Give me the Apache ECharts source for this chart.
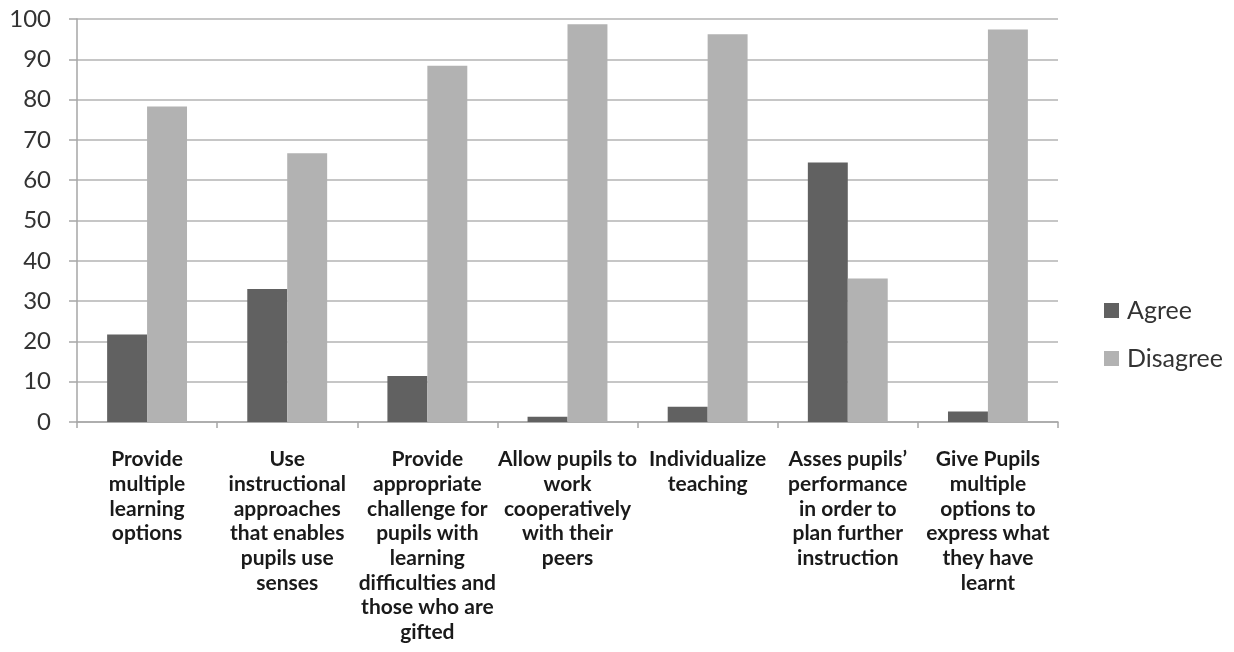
<!DOCTYPE html>
<html>
<head>
<meta charset="utf-8">
<script src="https://cdn.jsdelivr.net/npm/echarts@6/dist/echarts.min.js"></script>
<style>
html,body{margin:0;padding:0;background:#fff;}
#chart{width:1234px;height:652px;}
</style>
</head>
<body>
<div id="chart"></div>
<script>
const categories = [
  "Provide\nmultiple\nlearning\noptions",
  "Use\ninstructional\napproaches\nthat enables\npupils use\nsenses",
  "Provide\nappropriate\nchallenge for\npupils with\nlearning\ndifficulties and\nthose who are\ngifted",
  "Allow pupils to\nwork\ncooperatively\nwith their\npeers",
  "Individualize\nteaching",
  "Asses pupils\u2019\nperformance\nin order to\nplan further\ninstruction",
  "Give Pupils\nmultiple\noptions to\nexpress what\nthey have\nlearnt"
];
const agree = [21.7, 33.0, 11.4, 1.3, 3.8, 64.4, 2.6];
const disagree = [78.3, 66.7, 88.4, 98.7, 96.2, 35.6, 97.4];
const yTicks = { min: 0, max: 100, interval: 10 };

const chart = echarts.init(document.getElementById('chart'));
chart.setOption({
  animation: false,
  backgroundColor: '#ffffff',
  grid: { left: 77, right: 176, top: 19, bottom: 230, containLabel: false },
  legend: {
    orient: 'vertical',
    left: 1099,
    top: 293,
    icon: 'rect',
    itemWidth: 15,
    itemHeight: 15,
    itemGap: 23,
    textStyle: { fontFamily: 'Lato', fontSize: 25, color: '#333333', padding: [0, 0, 0, 3] },
    data: ['Agree', 'Disagree']
  },
  xAxis: {
    type: 'category',
    data: categories,
    axisLine: { lineStyle: { color: '#a6a6a6', width: 1.5 } },
    axisTick: { show: true, length: 6, alignWithLabel: false, lineStyle: { color: '#a6a6a6', width: 1.5 } },
    axisLabel: {
      interval: 0,
      margin: 25,
      fontFamily: 'Lato',
      fontWeight: 'bold',
      fontSize: 21,
      lineHeight: 24.7,
      color: '#1a1a1a',
      align: 'center',
      verticalAlign: 'top'
    }
  },
  yAxis: {
    type: 'value',
    min: yTicks.min,
    max: yTicks.max,
    interval: yTicks.interval,
    axisLine: { show: true, lineStyle: { color: '#a6a6a6', width: 1.5 } },
    axisTick: { show: true, length: 8, lineStyle: { color: '#a6a6a6', width: 1.5 } },
    splitLine: { lineStyle: { color: '#b3b3b3', width: 1.5 } },
    axisLabel: { margin: 26, fontFamily: 'Lato', fontSize: 24, color: '#333333' }
  },
  series: [
    {
      name: 'Agree', type: 'bar', data: agree,
      itemStyle: { color: '#616161' },
      barGap: '0%', barCategoryGap: '43%'
    },
    {
      name: 'Disagree', type: 'bar', data: disagree,
      itemStyle: { color: '#b2b2b2' },
      barGap: '0%', barCategoryGap: '43%'
    }
  ]
});
</script>
</body>
</html>
